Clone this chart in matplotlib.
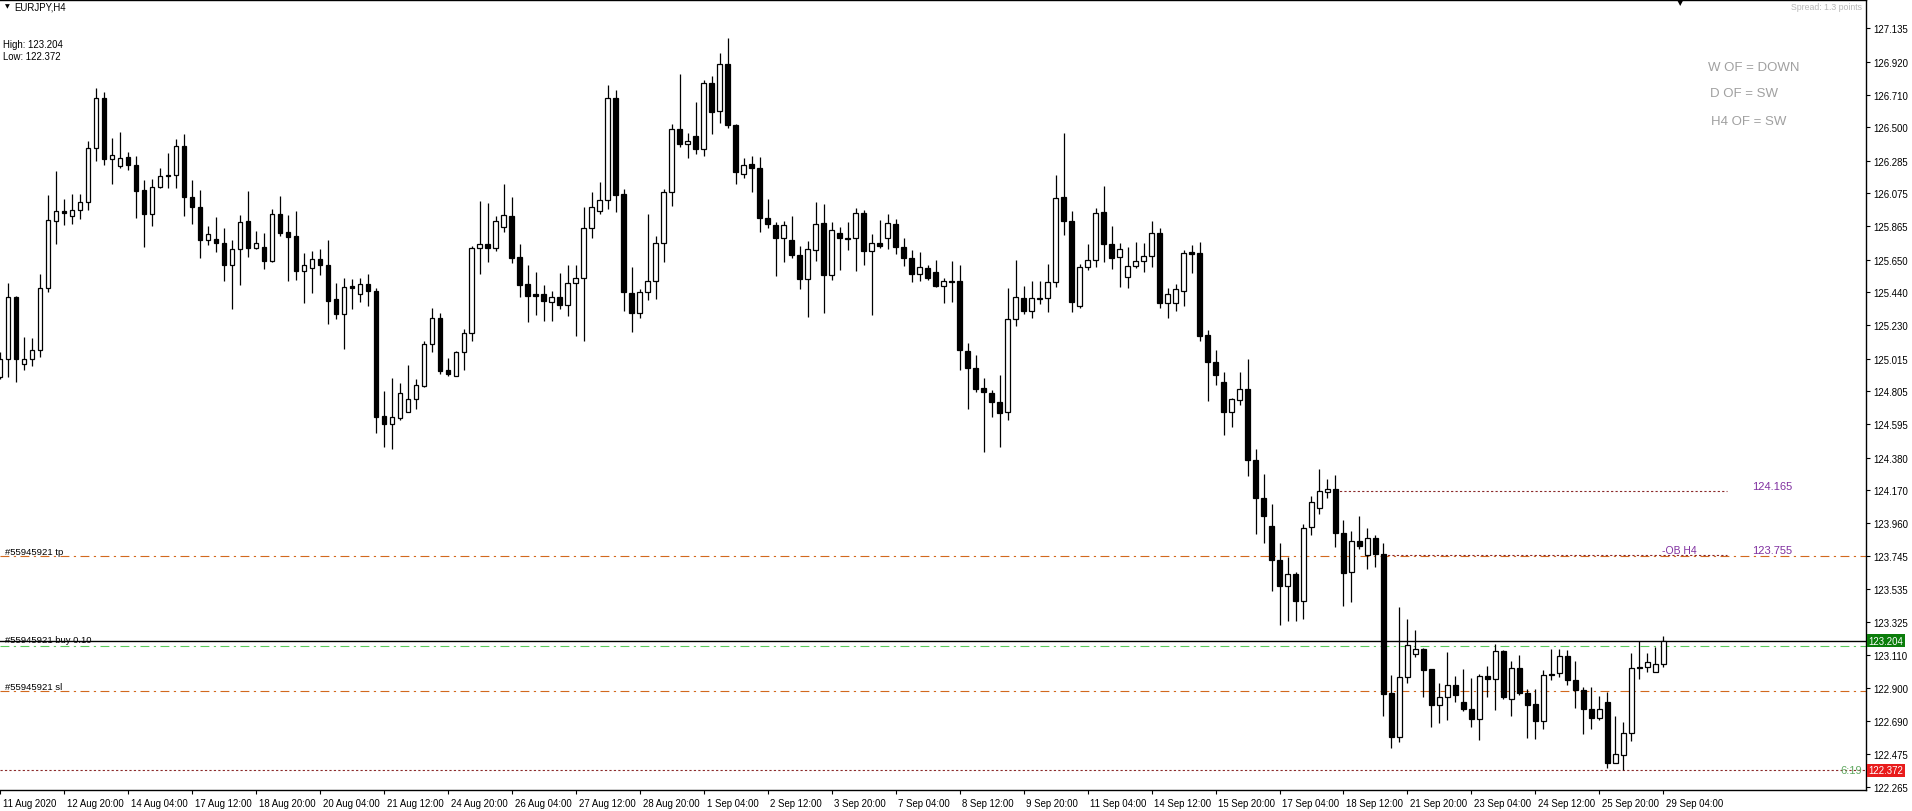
import matplotlib
matplotlib.use("Agg")
import matplotlib.pyplot as plt
import matplotlib.transforms as mtransforms
import numpy as np

plt.rcParams['font.family'] = ['Liberation Sans', 'DejaVu Sans']

# EURJPY H4 candles, one per bar (bar 0 = 11 Aug 2020 12:00)
opens = [
    124.895, 125.013, 125.409, 124.979, 125.013, 125.068, 125.466, 125.896, 125.961, 125.929,
    125.967, 126.018, 126.365, 126.686, 126.294, 126.249, 126.307, 126.256, 126.095, 125.941,
    126.115, 126.192, 126.192, 126.378, 126.050, 125.986, 125.779, 125.781, 125.755, 125.618,
    125.721, 125.896, 125.727, 125.730, 125.644, 125.941, 125.826, 125.800, 125.580, 125.599,
    125.653, 125.614, 125.398, 125.304, 125.479, 125.428, 125.492, 125.447, 124.647, 124.593,
    124.632, 124.675, 124.754, 124.841, 125.106, 125.273, 124.940, 124.901, 125.055, 125.177,
    125.723, 125.748, 125.723, 125.857, 125.928, 125.665, 125.492, 125.427, 125.427, 125.376,
    125.410, 125.357, 125.498, 125.530, 125.851, 125.960, 126.031, 126.685, 126.069, 125.434,
    125.306, 125.440, 125.511, 125.755, 126.082, 126.487, 126.390, 126.442, 126.358, 126.782,
    126.602, 126.904, 126.516, 126.198, 126.262, 126.236, 125.915, 125.870, 125.787, 125.774,
    125.678, 125.524, 125.714, 125.883, 125.554, 125.819, 125.789, 125.787, 125.948, 125.704,
    125.755, 125.787, 125.877, 125.729, 125.659, 125.556, 125.595, 125.569, 125.483, 125.513,
    125.511, 125.062, 124.953, 124.824, 124.792, 124.734, 124.670, 125.267, 125.402, 125.318,
    125.400, 125.402, 125.505, 126.050, 125.896, 125.351, 125.601, 125.646, 125.954, 125.749,
    125.665, 125.537, 125.607, 125.639, 125.672, 125.819, 125.370, 125.370, 125.451, 125.697,
    125.691, 125.165, 124.991, 124.863, 124.670, 124.747, 124.822, 124.363, 124.123, 123.939,
    123.720, 123.553, 123.631, 123.457, 123.932, 124.057, 124.160, 124.175, 123.895, 123.643,
    123.847, 123.756, 123.862, 123.758, 122.868, 122.588, 122.970, 123.118, 123.151, 123.021,
    122.791, 122.840, 122.918, 122.814, 122.767, 122.704, 122.979, 122.960, 123.139, 122.831,
    123.031, 122.868, 122.798, 122.687, 122.991, 122.998, 123.104, 122.955, 122.885, 122.767,
    122.706, 122.814, 122.421, 122.468, 122.610, 123.033, 123.033, 123.005, 123.057,
]
highs = [
    125.056, 125.501, 125.419, 125.156, 125.146, 125.558, 126.065, 126.220, 126.040, 126.070,
    126.070, 126.412, 126.750, 126.724, 126.429, 126.470, 126.339, 126.314, 126.160, 126.168,
    126.237, 126.333, 126.425, 126.457, 126.160, 126.095, 125.864, 125.922, 125.854, 125.775,
    125.935, 126.089, 125.832, 125.819, 125.973, 126.059, 125.935, 125.961, 125.695, 125.708,
    125.717, 125.775, 125.503, 125.531, 125.524, 125.535, 125.556, 125.466, 124.805, 124.891,
    124.859, 124.976, 124.884, 125.126, 125.340, 125.306, 125.019, 125.062, 125.205, 125.736,
    126.027, 126.014, 125.930, 126.136, 126.052, 125.748, 125.614, 125.571, 125.485, 125.447,
    125.562, 125.614, 125.614, 125.986, 126.086, 126.146, 126.769, 126.737, 126.101, 125.601,
    125.460, 125.941, 125.800, 126.101, 126.519, 126.840, 126.461, 126.660, 126.801, 126.827,
    126.974, 127.071, 126.519, 126.300, 126.313, 126.307, 126.039, 125.890, 125.900, 125.928,
    125.736, 125.768, 126.018, 126.007, 125.890, 125.860, 125.890, 125.980, 125.971, 125.813,
    125.903, 125.941, 125.911, 125.787, 125.710, 125.697, 125.616, 125.646, 125.530, 125.639,
    125.618, 125.113, 125.036, 124.889, 124.811, 124.908, 125.466, 125.646, 125.479, 125.511,
    125.511, 125.620, 126.194, 126.463, 125.960, 125.620, 125.749, 125.980, 126.121, 125.864,
    125.755, 125.729, 125.761, 125.755, 125.896, 125.851, 125.466, 125.492, 125.710, 125.742,
    125.761, 125.197, 125.068, 124.927, 124.760, 124.927, 125.015, 124.434, 124.273, 124.080,
    123.829, 123.739, 123.645, 123.956, 124.135, 124.304, 124.245, 124.271, 123.977, 123.906,
    124.005, 123.930, 123.885, 123.829, 122.981, 123.421, 123.341, 123.273, 123.160, 123.021,
    122.934, 123.130, 122.979, 123.024, 122.963, 122.993, 123.045, 123.184, 123.144, 123.071,
    123.113, 122.892, 122.894, 123.017, 123.151, 123.151, 123.144, 123.071, 122.906, 122.904,
    122.852, 122.878, 122.718, 122.680, 123.125, 123.203, 123.127, 123.163, 123.233,
]
lows = [
    124.884, 124.895, 124.867, 124.944, 124.970, 125.028, 125.441, 125.753, 125.875, 125.881,
    125.914, 125.967, 126.282, 126.256, 126.138, 126.237, 126.224, 125.920, 125.734, 125.869,
    126.108, 126.108, 126.108, 125.933, 125.881, 125.663, 125.747, 125.702, 125.511, 125.336,
    125.490, 125.670, 125.721, 125.593, 125.638, 125.804, 125.516, 125.522, 125.370, 125.434,
    125.554, 125.240, 125.267, 125.075, 125.336, 125.377, 125.355, 124.536, 124.446, 124.435,
    124.619, 124.673, 124.692, 124.831, 125.059, 124.914, 124.901, 124.901, 124.944, 125.130,
    125.560, 125.633, 125.704, 125.830, 125.631, 125.412, 125.252, 125.297, 125.258, 125.258,
    125.336, 125.286, 125.162, 125.130, 125.791, 125.941, 125.977, 125.954, 125.323, 125.188,
    125.273, 125.389, 125.395, 125.633, 125.992, 126.371, 126.300, 126.326, 126.317, 126.459,
    126.525, 126.495, 126.133, 126.172, 126.082, 125.825, 125.855, 125.547, 125.633, 125.663,
    125.460, 125.280, 125.644, 125.306, 125.522, 125.586, 125.714, 125.580, 125.618, 125.297,
    125.723, 125.716, 125.684, 125.612, 125.509, 125.515, 125.522, 125.477, 125.374, 125.381,
    124.944, 124.690, 124.803, 124.414, 124.638, 124.446, 124.619, 125.222, 125.299, 125.274,
    125.363, 125.316, 125.473, 125.811, 125.312, 125.338, 125.582, 125.601, 125.633, 125.588,
    125.477, 125.466, 125.595, 125.569, 125.601, 125.338, 125.278, 125.319, 125.355, 125.562,
    125.126, 124.745, 124.844, 124.525, 124.574, 124.715, 124.264, 123.887, 123.829, 123.523,
    123.304, 123.334, 123.334, 123.341, 123.883, 124.017, 124.118, 123.805, 123.429, 123.452,
    123.791, 123.664, 123.678, 122.722, 122.513, 122.551, 122.932, 123.101, 122.845, 122.649,
    122.673, 122.697, 122.810, 122.751, 122.649, 122.567, 122.845, 122.760, 122.828, 122.718,
    122.857, 122.579, 122.574, 122.635, 122.951, 122.970, 122.923, 122.770, 122.607, 122.640,
    122.697, 122.386, 122.421, 122.372, 122.562, 122.958, 123.005, 123.005, 123.033,
]
closes = [
    125.013, 125.409, 125.013, 125.013, 125.068, 125.466, 125.903, 125.961, 125.948, 125.967,
    126.018, 126.365, 126.686, 126.294, 126.320, 126.301, 126.256, 126.093, 125.941, 126.115,
    126.190, 126.185, 126.378, 126.050, 125.986, 125.779, 125.817, 125.755, 125.618, 125.721,
    125.890, 125.727, 125.755, 125.644, 125.941, 125.824, 125.798, 125.580, 125.614, 125.653,
    125.614, 125.387, 125.304, 125.473, 125.471, 125.492, 125.447, 124.643, 124.593, 124.638,
    124.795, 124.754, 124.846, 125.106, 125.273, 124.937, 124.914, 125.055, 125.177, 125.723,
    125.748, 125.723, 125.896, 125.935, 125.663, 125.490, 125.419, 125.419, 125.383, 125.413,
    125.357, 125.498, 125.530, 125.851, 125.986, 126.031, 126.685, 126.063, 125.440, 125.306,
    125.440, 125.511, 125.755, 126.082, 126.487, 126.390, 126.409, 126.358, 126.782, 126.596,
    126.904, 126.516, 126.211, 126.260, 126.236, 125.915, 125.877, 125.787, 125.870, 125.678,
    125.524, 125.716, 125.877, 125.554, 125.838, 125.787, 125.785, 125.948, 125.704, 125.755,
    125.740, 125.883, 125.729, 125.659, 125.556, 125.601, 125.530, 125.483, 125.511, 125.509,
    125.068, 124.953, 124.822, 124.799, 124.734, 124.668, 125.267, 125.408, 125.318, 125.402,
    125.404, 125.505, 126.044, 125.896, 125.376, 125.601, 125.646, 125.948, 125.749, 125.659,
    125.716, 125.607, 125.639, 125.672, 125.819, 125.370, 125.428, 125.460, 125.691, 125.689,
    125.162, 124.991, 124.908, 124.670, 124.754, 124.818, 124.363, 124.123, 124.003, 123.720,
    123.553, 123.631, 123.457, 123.925, 124.092, 124.163, 124.175, 123.895, 123.638, 123.847,
    123.810, 123.862, 123.758, 122.864, 122.588, 122.970, 123.174, 123.151, 123.014, 122.791,
    122.840, 122.918, 122.854, 122.763, 122.704, 122.979, 122.960, 123.139, 122.845, 123.031,
    122.868, 122.793, 122.687, 122.981, 122.981, 123.104, 122.955, 122.885, 122.767, 122.706,
    122.767, 122.421, 122.475, 122.610, 123.028, 123.028, 123.066, 123.057, 123.204,
]

price_ticks = [127.135, 126.920, 126.710, 126.500, 126.285, 126.075, 125.865, 125.650,
               125.440, 125.230, 125.015, 124.805, 124.595, 124.380, 124.170, 123.960,
               123.745, 123.535, 123.325, 123.110, 122.900, 122.690, 122.475, 122.265]
date_labels = ["11 Aug 2020", "12 Aug 20:00", "14 Aug 04:00", "17 Aug 12:00", "18 Aug 20:00",
               "20 Aug 04:00", "21 Aug 12:00", "24 Aug 20:00", "26 Aug 04:00", "27 Aug 12:00",
               "28 Aug 20:00", "1 Sep 04:00", "2 Sep 12:00", "3 Sep 20:00", "7 Sep 04:00",
               "8 Sep 12:00", "9 Sep 20:00", "11 Sep 04:00", "14 Sep 12:00", "15 Sep 20:00",
               "17 Sep 04:00", "18 Sep 12:00", "21 Sep 20:00", "23 Sep 04:00", "24 Sep 12:00",
               "25 Sep 20:00", "29 Sep 04:00"]
bars_per_label = 8

bid = 123.204
day_low = 122.372
tp_price = 123.745
sl_price = 122.880
open_price = 123.170
level_hi = 124.165
level_ob = 123.755
level_start = [167, 173]
level_end = 216

o = np.array(opens)
h = np.array(highs)
l = np.array(lows)
c = np.array(closes)
x = np.arange(len(o))
up = c >= o

fig = plt.figure(figsize=(19.12, 8.12), dpi=100)
ax = fig.add_axes([0, 1 - 791 / 812, 1866 / 1912, 790 / 812])

# wicks and bodies
ax.vlines(x, l, h, color='black', linewidth=0.9, zorder=3)
body_lo = np.minimum(o, c)
body_h = np.abs(c - o)
ax.bar(x[up], body_h[up], bottom=body_lo[up], width=0.58, color='white',
       edgecolor='black', linewidth=0.9, zorder=4)
ax.bar(x[~up], body_h[~up], bottom=body_lo[~up], width=0.58, color='black',
       edgecolor='black', linewidth=0.9, zorder=4)

ax.set_xlim(0.09, 233.34)
ax.set_ylim(122.246, 127.317)

# horizontal levels
ax.axhline(day_low, color='#8b2a2a', linewidth=0.8, linestyle=(0, (2, 2)), zorder=2)
ax.axhline(bid, color='black', linewidth=1.0, zorder=2)
ax.axhline(open_price, color='#5ccc5c', linewidth=0.8, linestyle=(0, (8, 4, 2, 4)), zorder=2)
ax.axhline(tp_price, color='#d2691e', linewidth=0.8, linestyle=(0, (8, 4, 2, 4)), zorder=2)
ax.axhline(sl_price, color='#d2691e', linewidth=0.8, linestyle=(0, (8, 4, 2, 4)), zorder=2)
ax.hlines([level_hi, level_ob], level_start, level_end, color='#8b2a2a', linewidth=0.8,
          linestyles=(0, (2, 2)), zorder=2)

purple = '#8030a0'
ax.text(219.1, level_hi, '124.165', color=purple, fontsize=8, va='bottom', ha='left')
ax.text(219.1, level_ob, '123.755', color=purple, fontsize=8, va='bottom', ha='left')
ax.text(207.8, level_ob, '-OB H4', color=purple, fontsize=7.5, va='bottom', ha='left')

# order labels on the left
ax.text(0.6, tp_price + 0.004, '#55945921 tp', fontsize=6.8, va='bottom', ha='left')
ax.text(0.6, bid + 0.01, '#55945921 buy 0.10', fontsize=6.8, va='center', ha='left')
ax.text(0.6, sl_price + 0.004, '#55945921 sl', fontsize=6.8, va='bottom', ha='left')
ax.text(0.998, day_low, '6:19', fontsize=8, color='#5fa85f', va='center', ha='right',
        transform=ax.get_yaxis_transform())

# price axis on the right
ax.yaxis.tick_right()
ax.set_yticks(price_ticks)
ax.set_yticklabels([f'{p:.3f}' for p in price_ticks])
ax.tick_params(axis='y', direction='out', length=3, width=0.8, pad=2, labelsize=6.9)

ax.text(1.0015, bid, f'{bid:.3f}', transform=ax.get_yaxis_transform(), color='white',
        fontsize=6.9, va='center', ha='left',
        bbox=dict(boxstyle='square,pad=0.15', facecolor='#0b7d0b', edgecolor='none'))
ax.text(1.0015, day_low, f'{day_low:.3f}', transform=ax.get_yaxis_transform(), color='white',
        fontsize=6.9, va='center', ha='left',
        bbox=dict(boxstyle='square,pad=0.15', facecolor='#e81c1c', edgecolor='none'))

# time axis
ax.set_xticks(np.arange(len(date_labels)) * bars_per_label)
ax.set_xticklabels(date_labels)
ax.tick_params(axis='x', direction='out', length=3, width=0.8, pad=3, labelsize=6.9)
shift = mtransforms.ScaledTranslation(2 / 72, 0, fig.dpi_scale_trans)
for lab in ax.get_xticklabels():
    lab.set_horizontalalignment('left')
    lab.set_transform(lab.get_transform() + shift)

ax.spines['left'].set_visible(False)
for side in ['top', 'right', 'bottom']:
    ax.spines[side].set_linewidth(1.0)
    ax.spines[side].set_color('black')

# header texts
fig.text(5 / 1912, 1 - 7 / 812, '\u25bc', fontsize=4.5, va='center', ha='left', family='DejaVu Sans')
fig.text(14 / 1912, 1 - 7 / 812, 'EURJPY,H4', fontsize=6.9, va='center', ha='left')
fig.text(3 / 1912, 1 - 45 / 812, 'High: 123.204', fontsize=6.9, va='center', ha='left')
fig.text(3 / 1912, 1 - 57 / 812, 'Low: 122.372', fontsize=6.9, va='center', ha='left')
fig.text(1862 / 1912, 1 - 7 / 812, 'Spread: 1.3 points', fontsize=6.3, color='#b8b8b8',
         va='center', ha='right')
fig.text(1680 / 1912, 1 - 3 / 812, '\u25bc', fontsize=6, va='center', ha='center', family='DejaVu Sans')

gray = '#a0a0a0'
fig.text(1708 / 1912, 1 - 68 / 812, 'W OF = DOWN', fontsize=9.5, color=gray, va='center', ha='left')
fig.text(1710 / 1912, 1 - 94 / 812, 'D OF = SW', fontsize=9.5, color=gray, va='center', ha='left')
fig.text(1711 / 1912, 1 - 122 / 812, 'H4 OF = SW', fontsize=9.5, color=gray, va='center', ha='left')

fig.savefig('out.png', dpi=100)
